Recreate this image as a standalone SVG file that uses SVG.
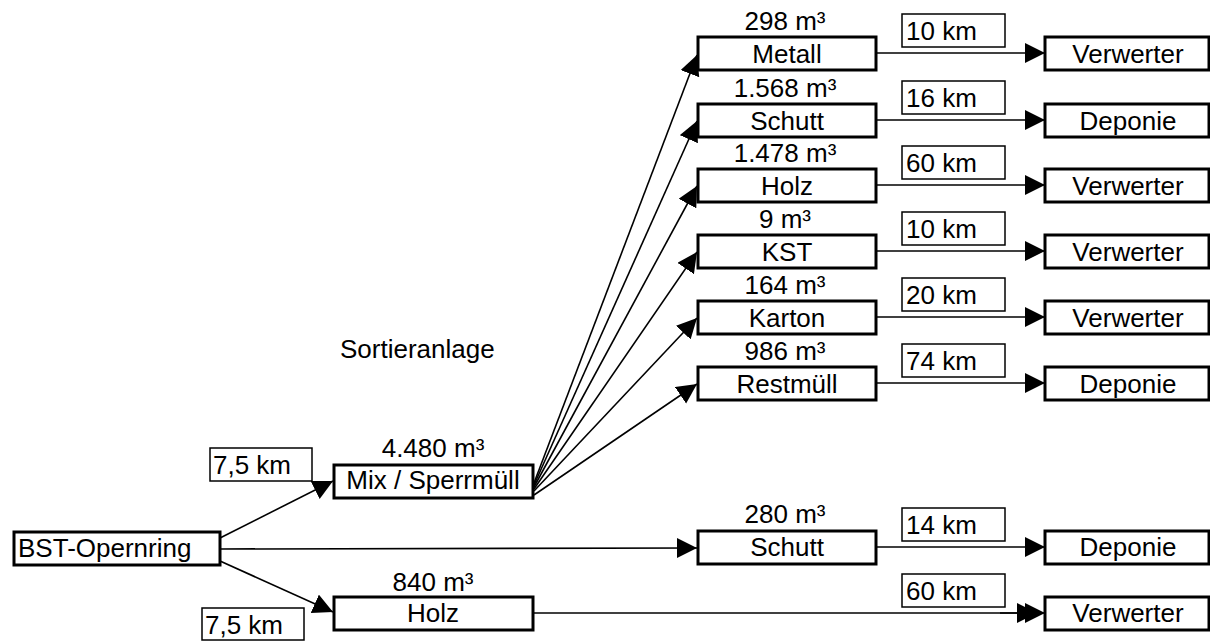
<svg xmlns="http://www.w3.org/2000/svg" width="1210" height="641" viewBox="0 0 1210 641">
<style>
text{font-family:"Liberation Sans",Arial,sans-serif;font-size:26px;fill:#000}
.c{text-anchor:middle}
.box{fill:#fff;stroke:#000;stroke-width:3}
.km{fill:#fff;stroke:#000;stroke-width:1.5}
.ln{fill:none;stroke:#000;stroke-width:1.6}
</style>
<defs>
<marker id="ah" markerUnits="userSpaceOnUse" markerWidth="21" markerHeight="21" refX="20" refY="10" orient="auto">
<path d="M0,0 L20,10 L0,20 z" fill="#000"/>
</marker>
</defs>
<rect width="1210" height="641" fill="#fff"/>
<g id="connectors">
<line class="ln" x1="220" y1="538" x2="333" y2="481" marker-end="url(#ah)"/>
<line class="ln" x1="220" y1="549" x2="697" y2="548" marker-end="url(#ah)"/>
<line class="ln" x1="220" y1="561" x2="333" y2="612" marker-end="url(#ah)"/>
<line class="ln" x1="534" y1="483" x2="697" y2="55" marker-end="url(#ah)"/>
<line class="ln" x1="534" y1="485" x2="697" y2="121" marker-end="url(#ah)"/>
<line class="ln" x1="534" y1="487" x2="697" y2="186" marker-end="url(#ah)"/>
<line class="ln" x1="534" y1="489" x2="697" y2="252" marker-end="url(#ah)"/>
<line class="ln" x1="534" y1="491" x2="697" y2="318" marker-end="url(#ah)"/>
<line class="ln" x1="534" y1="495" x2="697" y2="384" marker-end="url(#ah)"/>
<line class="ln" x1="876" y1="53" x2="1045" y2="53" marker-end="url(#ah)"/>
<line class="ln" x1="876" y1="120" x2="1045" y2="120" marker-end="url(#ah)"/>
<line class="ln" x1="876" y1="185" x2="1045" y2="185" marker-end="url(#ah)"/>
<line class="ln" x1="876" y1="251" x2="1045" y2="251" marker-end="url(#ah)"/>
<line class="ln" x1="876" y1="317" x2="1045" y2="317" marker-end="url(#ah)"/>
<line class="ln" x1="876" y1="383" x2="1045" y2="383" marker-end="url(#ah)"/>
<line class="ln" x1="876" y1="547" x2="1045" y2="547" marker-end="url(#ah)"/>
<line class="ln" x1="533" y1="613" x2="1037" y2="613" marker-end="url(#ah)"/>
<line class="ln" x1="1000" y1="613" x2="1045" y2="613" marker-end="url(#ah)"/>
</g>
<g id="bst"><rect class="box" x="14" y="532" width="206" height="33"/><text x="18" y="557">BST-Opernring</text></g>
<g id="km-mix"><rect class="km" x="210" y="448" width="102" height="33"/><text x="213" y="474">7,5 km</text></g>
<g id="km-holz"><rect class="km" x="202" y="608" width="102" height="32"/><text x="205" y="634">7,5 km</text></g>
<g id="mix"><text class="c" x="433" y="457">4.480 m³</text><rect class="box" x="334" y="465" width="199" height="33"/><text class="c" x="433" y="489">Mix / Sperrmüll</text></g>
<g id="sortieranlage"><text x="340" y="358">Sortieranlage</text></g>
<g id="holz-b"><text class="c" x="433" y="591">840 m³</text><rect class="box" x="334" y="597" width="199" height="33"/><text class="c" x="433" y="622">Holz</text></g>
<g id="metall"><text class="c" x="785" y="30">298 m³</text><rect class="box" x="698" y="37" width="178" height="33"/><text class="c" x="787" y="63">Metall</text></g>
<g id="schutt"><text class="c" x="785" y="97">1.568 m³</text><rect class="box" x="698" y="104" width="178" height="33"/><text class="c" x="787" y="130">Schutt</text></g>
<g id="holz"><text class="c" x="785" y="162">1.478 m³</text><rect class="box" x="698" y="169" width="178" height="33"/><text class="c" x="787" y="195">Holz</text></g>
<g id="kst"><text class="c" x="785" y="228">9 m³</text><rect class="box" x="698" y="235" width="178" height="33"/><text class="c" x="787" y="261">KST</text></g>
<g id="karton"><text class="c" x="785" y="294">164 m³</text><rect class="box" x="698" y="301" width="178" height="33"/><text class="c" x="787" y="327">Karton</text></g>
<g id="restmuell"><text class="c" x="785" y="360">986 m³</text><rect class="box" x="698" y="367" width="178" height="33"/><text class="c" x="787" y="393">Restmüll</text></g>
<g id="schutt2"><text class="c" x="785" y="523">280 m³</text><rect class="box" x="698" y="531" width="178" height="33"/><text class="c" x="787" y="556">Schutt</text></g>
<g id="km1"><rect class="km" x="902" y="14" width="103" height="33"/><text x="906" y="40">10 km</text></g>
<g id="km2"><rect class="km" x="902" y="81" width="103" height="33"/><text x="906" y="107">16 km</text></g>
<g id="km3"><rect class="km" x="902" y="146" width="103" height="33"/><text x="906" y="172">60 km</text></g>
<g id="km4"><rect class="km" x="902" y="212" width="103" height="33"/><text x="906" y="238">10 km</text></g>
<g id="km5"><rect class="km" x="902" y="278" width="103" height="33"/><text x="906" y="304">20 km</text></g>
<g id="km6"><rect class="km" x="902" y="344" width="103" height="33"/><text x="906" y="370">74 km</text></g>
<g id="km7"><rect class="km" x="902" y="508" width="103" height="33"/><text x="906" y="534">14 km</text></g>
<g id="km8"><rect class="km" x="902" y="574" width="103" height="33"/><text x="906" y="600">60 km</text></g>
<g id="d1"><rect class="box" x="1045" y="37" width="164" height="33"/><text class="c" x="1128" y="63">Verwerter</text></g>
<g id="d2"><rect class="box" x="1045" y="104" width="164" height="33"/><text class="c" x="1128" y="130">Deponie</text></g>
<g id="d3"><rect class="box" x="1045" y="169" width="164" height="33"/><text class="c" x="1128" y="195">Verwerter</text></g>
<g id="d4"><rect class="box" x="1045" y="235" width="164" height="33"/><text class="c" x="1128" y="261">Verwerter</text></g>
<g id="d5"><rect class="box" x="1045" y="301" width="164" height="33"/><text class="c" x="1128" y="327">Verwerter</text></g>
<g id="d6"><rect class="box" x="1045" y="367" width="164" height="33"/><text class="c" x="1128" y="393">Deponie</text></g>
<g id="d7"><rect class="box" x="1045" y="531" width="164" height="33"/><text class="c" x="1128" y="556">Deponie</text></g>
<g id="d8"><rect class="box" x="1045" y="597" width="164" height="33"/><text class="c" x="1128" y="622">Verwerter</text></g>
</svg>
